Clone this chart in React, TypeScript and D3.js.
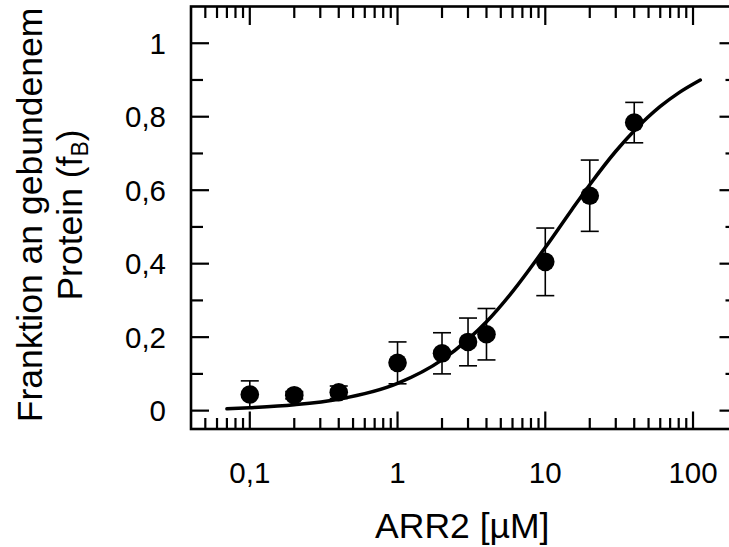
import React from "react";
import * as d3 from "d3";

// Data
const concentrations = [0.1, 0.2, 0.4, 1, 2, 3, 4, 10, 20, 40];
const fractionBound = [0.044, 0.042, 0.05, 0.13, 0.156, 0.187, 0.208, 0.405, 0.585, 0.784];
const errors = [0.037, 0.01, 0.017, 0.057, 0.056, 0.065, 0.07, 0.092, 0.097, 0.055];

// Fit curve
const curveX = [0.07, 0.1, 0.2, 0.4, 1, 2, 3, 4, 6, 10, 15, 20, 30, 40, 60, 80, 112];
const curveY = [0.005, 0.008, 0.016, 0.031, 0.074, 0.138, 0.194, 0.242, 0.324, 0.444, 0.545, 0.615, 0.706, 0.762, 0.828, 0.865, 0.9];

const xTickValues = [0.1, 1, 10, 100];
const xTickLabels = ["0,1", "1", "10", "100"];
const yTickValues = [0, 0.2, 0.4, 0.6, 0.8, 1];
const yTickLabels = ["0", "0,2", "0,4", "0,6", "0,8", "1"];
const yMinorValues = [0.1, 0.3, 0.5, 0.7, 0.9];

const W = 729;
const H = 547;
const left = 191;
const right = 737.5;
const top = 6.5;
const bottom = 429;

const FONT = "'Liberation Sans', Arial, Helvetica, sans-serif";

export default function App() {
  const x = d3.scaleLog().domain([0.04, 200]).range([left, right]);
  const y = d3.scaleLinear().domain([-0.05, 1.1]).range([bottom, top]);

  const allXTicks = x.ticks().filter((t) => t > 0.04 && t < 200);
  const isMajor = (t: number) => Math.abs(Math.log10(t) - Math.round(Math.log10(t))) < 1e-9;

  const line = d3
    .line<number>()
    .x((_, i) => x(curveX[i]))
    .y((d) => y(d))
    .curve(d3.curveMonotoneX);

  const tickW = 2.2;
  const capHalf = 9;

  return (
    <svg
      width={W}
      height={H}
      style={{ position: "absolute", left: 0, top: 0, background: "#fff" }}
      fontFamily={FONT}
    >
      <rect x={0} y={0} width={W} height={H} fill="#fff" />
      {/* X ticks top & bottom */}
      {allXTicks.map((t, i) => {
        const major = isMajor(t);
        const px = x(t);
        return (
          <g key={"xt" + i} stroke="#000" strokeWidth={tickW}>
            <line x1={px} x2={px} y1={bottom} y2={bottom - (major ? 17.5 : 11)} />
            <line x1={px} x2={px} y1={top} y2={top + (major ? 18.5 : 11.5)} />
          </g>
        );
      })}
      {/* Y ticks left & right */}
      {yTickValues.map((t, i) => (
        <g key={"yt" + i} stroke="#000" strokeWidth={tickW}>
          <line x1={left} x2={left + 18} y1={y(t)} y2={y(t)} />
          <line x1={right} x2={right - 18} y1={y(t)} y2={y(t)} />
        </g>
      ))}
      {yMinorValues.map((t, i) => (
        <g key={"ym" + i} stroke="#000" strokeWidth={tickW}>
          <line x1={left} x2={left + 12} y1={y(t)} y2={y(t)} />
          <line x1={right} x2={right - 12} y1={y(t)} y2={y(t)} />
        </g>
      ))}
      {/* Frame */}
      <rect
        x={left}
        y={top}
        width={right - left}
        height={bottom - top}
        fill="none"
        stroke="#000"
        strokeWidth={2.6}
      />
      {/* Fit curve */}
      <path d={line(curveY) || ""} fill="none" stroke="#000" strokeWidth={3.5} strokeLinecap="round" />
      {/* Error bars */}
      {concentrations.map((c, i) => {
        const px = x(c);
        const y1 = y(fractionBound[i] + errors[i]);
        const y2 = y(fractionBound[i] - errors[i]);
        return (
          <g key={"eb" + i} stroke="#000" strokeWidth={1.6}>
            <line x1={px} x2={px} y1={y1} y2={y2} />
            <line x1={px - capHalf} x2={px + capHalf} y1={y1} y2={y1} />
            <line x1={px - capHalf} x2={px + capHalf} y1={y2} y2={y2} />
          </g>
        );
      })}
      {/* Points */}
      {concentrations.map((c, i) => (
        <circle key={"pt" + i} cx={x(c)} cy={y(fractionBound[i])} r={9.3} fill="#000" />
      ))}
      {/* X tick labels */}
      {xTickValues.map((t, i) => (
        <text key={"xl" + i} x={x(t)} y={483} fontSize={29.5} textAnchor="middle" fill="#000">
          {xTickLabels[i]}
        </text>
      ))}
      {/* Y tick labels */}
      {yTickValues.map((t, i) => (
        <text key={"yl" + i} x={166} y={y(t) + 10.5} fontSize={29.5} textAnchor="end" fill="#000">
          {yTickLabels[i]}
        </text>
      ))}
      {/* X title */}
      <text x={(left + right) / 2 - 2} y={538} fontSize={35.5} textAnchor="middle" fill="#000">
        ARR2 [µM]
      </text>
      {/* Y title */}
      <g transform="rotate(-90)">
        <text x={-215} y={42} fontSize={35.5} textAnchor="middle" fill="#000">
          Franktion an gebundenem
        </text>
        <text x={-215} y={82} fontSize={35.5} textAnchor="middle" fill="#000">
          Protein (f
          <tspan fontSize={23} dy={6}>B</tspan>
          <tspan dy={-6}>)</tspan>
        </text>
      </g>
    </svg>
  );
}
